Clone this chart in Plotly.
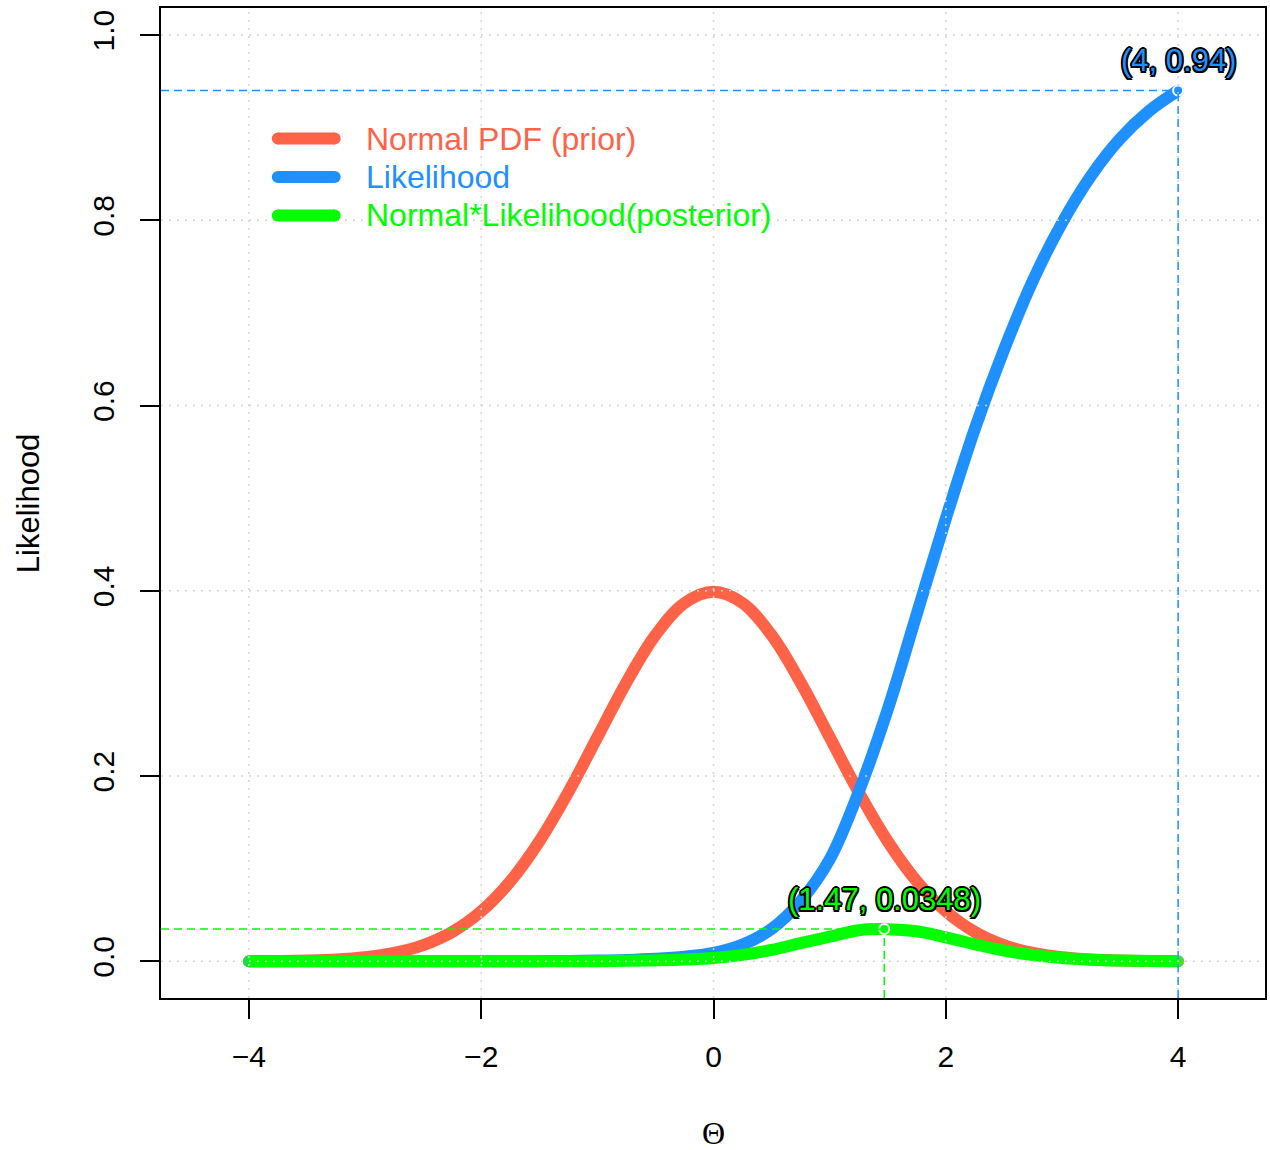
import plotly.graph_objects as go

# ---------------- data ----------------
THETA = [-4.0, -3.75, -3.5, -3.25, -3.0, -2.75, -2.5, -2.25, -2.0, -1.75, -1.5,
         -1.25, -1.0, -0.75, -0.5, -0.25, 0.0, 0.25, 0.5, 0.75, 1.0, 1.25, 1.5,
         1.75, 2.0, 2.25, 2.5, 2.75, 3.0, 3.25, 3.5, 3.75, 4.0]

PRIOR = [0.0001, 0.0004, 0.0009, 0.0020, 0.0044, 0.0091, 0.0175, 0.0317, 0.0540,
         0.0863, 0.1295, 0.1826, 0.2420, 0.3011, 0.3521, 0.3867, 0.3989, 0.3867,
         0.3521, 0.3011, 0.2420, 0.1826, 0.1295, 0.0863, 0.0540, 0.0317, 0.0175,
         0.0091, 0.0044, 0.0020, 0.0009, 0.0004, 0.0001]

LIKELIHOOD = [0.0000, 0.0000, 0.0000, 0.0000, 0.0000, 0.0000, 0.0000, 0.0001,
              0.0001, 0.0001, 0.0002, 0.0004, 0.0008, 0.0015, 0.0028, 0.0050,
              0.0090, 0.0180, 0.0350, 0.0650, 0.1100, 0.1830, 0.2720, 0.3750,
              0.4780, 0.5750, 0.6600, 0.7350, 0.7970, 0.8480, 0.8880, 0.9180,
              0.9400]

POSTERIOR = [0.0000, 0.0000, 0.0000, 0.0000, 0.0000, 0.0000, 0.0000, 0.0000,
             0.0000, 0.0000, 0.00003, 0.00007, 0.0002, 0.0005, 0.0010, 0.0019,
             0.0036, 0.0070, 0.0123, 0.0196, 0.0266, 0.0336, 0.0347, 0.0324,
             0.0259, 0.0184, 0.0116, 0.0067, 0.0035, 0.0017, 0.0008, 0.0004,
             0.0001]

SERIES_NAMES = ["Normal PDF (prior)", "Likelihood", "Normal*Likelihood(posterior)"]
SERIES_COLORS = ["#FF6347", "#1E90FF", "#00FF00"]

X_TICKS = [-4, -2, 0, 2, 4]
X_TICK_LABELS = ["\u22124", "\u22122", "0", "2", "4"]
Y_TICKS = [0.0, 0.2, 0.4, 0.6, 0.8, 1.0]
Y_TICK_LABELS = ["0.0", "0.2", "0.4", "0.6", "0.8", "1.0"]

LIK_MAX_X, LIK_MAX_Y = 4, 0.94
POST_MAX_X, POST_MAX_Y = 1.47, 0.0348

X_TITLE = "\u0398"
Y_TITLE = "Likelihood"

X_RANGE = [-4.757, 4.748]
Y_RANGE = [-0.0396, 1.0292]

# ---------------- figure ----------------
W, H = 1270, 1150
ML, MR, MT, MB = 161, 3, 8, 152
PW, PH = W - ML - MR, H - MT - MB

def px_x(px):
    return (px - ML) / PW

def px_y(py):
    return (H - MB - py) / PH

FONT = "Liberation Sans, Arial, Helvetica, sans-serif"

fig = go.Figure()

series = [PRIOR, LIKELIHOOD, POSTERIOR]
n = len(THETA)
for name, color, ys in zip(SERIES_NAMES, SERIES_COLORS, series):
    fig.add_trace(go.Scatter(
        x=THETA, y=ys, name=name, mode="lines+markers",
        line=dict(color=color, width=12, shape="spline", smoothing=1.0),
        marker=dict(size=[12] + [0] * (n - 2) + [12], color=color, line=dict(width=0)),
        showlegend=False, hoverinfo="skip",
    ))

shapes = []
# dotted grid drawn over the curves (as in the reference)
for xv in X_TICKS:
    shapes.append(dict(type="line", xref="x", yref="paper", x0=xv, x1=xv, y0=0, y1=1,
                       line=dict(color="#D3D3D3", width=1.5, dash="2px,6px"), layer="above"))
for yv in Y_TICKS:
    shapes.append(dict(type="line", xref="paper", yref="y", x0=0, x1=1, y0=yv, y1=yv,
                       line=dict(color="#D3D3D3", width=1.5, dash="2px,6px"), layer="above"))

# dashed guide lines to the maxima
for (mx, my, col) in [(LIK_MAX_X, LIK_MAX_Y, SERIES_COLORS[1]),
                      (POST_MAX_X, POST_MAX_Y, SERIES_COLORS[2])]:
    shapes.append(dict(type="line", xref="x", yref="y", x0=X_RANGE[0], x1=mx, y0=my, y1=my,
                       line=dict(color=col, width=1.5, dash="8px,5px"), layer="above"))
    shapes.append(dict(type="line", xref="x", yref="y", x0=mx, x1=mx, y0=Y_RANGE[0], y1=my,
                       line=dict(color=col, width=1.5, dash="8px,5px"), layer="above"))

# max points
fig.add_trace(go.Scatter(
    x=[LIK_MAX_X, POST_MAX_X], y=[LIK_MAX_Y, POST_MAX_Y], mode="markers",
    marker=dict(size=10, color=[SERIES_COLORS[1], SERIES_COLORS[2]],
                line=dict(color="white", width=2)),
    showlegend=False, hoverinfo="skip"))

outline = ", ".join(f"{dx}px {dy}px 0 #000" for dx, dy in
                    [(-2, 0), (2, 0), (0, -2), (0, 2),
                     (-1.5, -1.5), (1.5, -1.5), (-1.5, 1.5), (1.5, 1.5)])

annotations = []
for (mx, my, col, label) in [(LIK_MAX_X, LIK_MAX_Y, SERIES_COLORS[1], f"({LIK_MAX_X}, {LIK_MAX_Y})"),
                             (POST_MAX_X, POST_MAX_Y, SERIES_COLORS[2], f"({POST_MAX_X}, {POST_MAX_Y})")]:
    annotations.append(dict(x=mx, y=my, xref="x", yref="y", text=label, showarrow=False,
                            yshift=30, xanchor="center", yanchor="middle",
                            font=dict(family=FONT, size=31, color=col, shadow=outline)))

# legend (drawn manually: long thick lines with round ends + coloured labels)
LEG_ROWS = [138.5, 177, 215.5]
LEG_X0, LEG_X1, LEG_TX = 278, 335, 364
for name, color, ry in zip(SERIES_NAMES, SERIES_COLORS, LEG_ROWS):
    shapes.append(dict(type="line", xref="paper", yref="paper",
                       x0=px_x(LEG_X0), x1=px_x(LEG_X1), y0=px_y(ry), y1=px_y(ry),
                       line=dict(color=color, width=12), layer="above"))
    for ex in (LEG_X0, LEG_X1):
        shapes.append(dict(type="circle", xref="paper", yref="paper",
                           xsizemode="pixel", ysizemode="pixel",
                           xanchor=px_x(ex), yanchor=px_y(ry),
                           x0=-6, x1=6, y0=-6, y1=6,
                           fillcolor=color, line=dict(width=0), layer="above"))
    annotations.append(dict(x=px_x(LEG_TX), y=px_y(ry), xref="paper", yref="paper",
                            text=name, showarrow=False, xanchor="left", yanchor="middle",
                            font=dict(family=FONT, size=32, color=color)))

# axis titles
annotations.append(dict(x=px_x(28), y=px_y(503), xref="paper", yref="paper", text=Y_TITLE,
                        showarrow=False, textangle=-90, xanchor="center", yanchor="middle",
                        font=dict(family=FONT, size=31, color="black")))
annotations.append(dict(x=px_x(714), y=px_y(1133), xref="paper", yref="paper", text=X_TITLE,
                        showarrow=False, xanchor="center", yanchor="middle",
                        font=dict(family="Liberation Serif, DejaVu Serif, serif", size=32,
                                  color="black")))

axis_common = dict(showline=True, linecolor="black", linewidth=2, mirror=True,
                   ticks="outside", ticklen=19, tickwidth=2, tickcolor="black",
                   showgrid=False, zeroline=False,
                   tickfont=dict(family=FONT, size=30, color="black"))

fig.update_layout(
    width=W, height=H,
    margin=dict(l=ML, r=MR, t=MT, b=MB),
    paper_bgcolor="white", plot_bgcolor="white",
    xaxis=dict(range=X_RANGE, tickvals=X_TICKS, ticktext=X_TICK_LABELS,
               ticklabelstandoff=12, **axis_common),
    yaxis=dict(range=Y_RANGE, tickvals=Y_TICKS, ticktext=Y_TICK_LABELS, tickangle=-90,
               ticklabelstandoff=14, **axis_common),
    shapes=shapes, annotations=annotations,
    showlegend=False,
)

fig.write_html("out.html")
